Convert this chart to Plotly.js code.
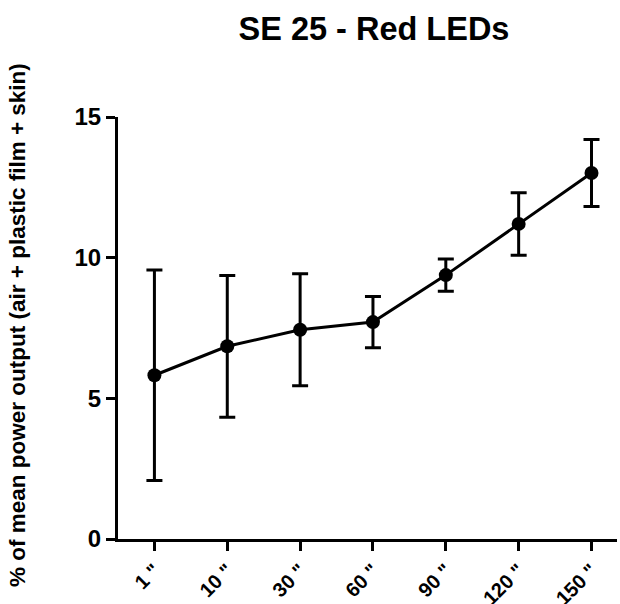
<!DOCTYPE html>
<html>
<head>
<meta charset="utf-8">
<script src="https://cdn.plot.ly/plotly-3.0.1.min.js"></script>
<style>html,body{margin:0;padding:0;background:#fff;}#chart{width:620px;height:604px;}</style>
</head>
<body>
<div id="chart"></div>
<script>
const categories = ['1 "', '10 "', '30 "', '60 "', '90 "', '120 "', '150 "'];
const meanValues = [5.82, 6.85, 7.44, 7.71, 9.38, 11.2, 13.01];
const sdValues = [3.74, 2.52, 1.99, 0.91, 0.57, 1.11, 1.19];
const yTickVals = [0, 5, 10, 15];

const FONT = '"Liberation Sans", Arial, Helvetica, sans-serif';

const trace = {
  x: categories,
  y: meanValues,
  type: 'scatter',
  mode: 'lines+markers',
  line: {color: '#000', width: 3},
  marker: {color: '#000', size: 14},
  error_y: {type: 'data', array: sdValues, visible: true, color: '#000', thickness: 3, width: 8},
  cliponaxis: false,
  showlegend: false
};

const layout = {
  width: 620, height: 604,
  margin: {l: 118, r: 3, t: 117, b: 65},
  paper_bgcolor: '#fff', plot_bgcolor: '#fff',
  font: {family: FONT, color: '#000'},
  title: {text: '<b>SE 25 - Red LEDs</b>', font: {size: 32.5, color: '#000', family: FONT}, x: 374/620, xanchor: 'center', y: 1 - 29/604, yanchor: 'middle'},
  xaxis: {
    type: 'category', range: [-0.5, 6.35],
    showline: true, linecolor: '#000', linewidth: 3,
    ticks: 'outside', ticklen: 9, tickwidth: 3, tickcolor: '#000',
    tickangle: -45, tickfont: {size: 20, color: '#000', family: FONT, weight: 'bold'},
    showgrid: false, zeroline: false, fixedrange: true
  },
  yaxis: {
    range: [0, 15], tickvals: yTickVals,
    showline: true, linecolor: '#000', linewidth: 3,
    ticks: 'outside', ticklen: 9, tickwidth: 3, tickcolor: '#000',
    tickfont: {size: 24, color: '#000', family: FONT, weight: 'bold'},
    showgrid: false, zeroline: false
  },
  annotations: [{
    text: '<b>% of mean power output (air + plastic film + skin)</b>',
    xref: 'paper', yref: 'paper',
    x: (17 - 118) / 499, y: (539 - 325) / 422,
    xanchor: 'center', yanchor: 'middle',
    textangle: -90, showarrow: false,
    font: {size: 22.5, color: '#000', family: FONT}
  }]
};

Plotly.newPlot('chart', [trace], layout, {displayModeBar: false, staticPlot: true});
</script>
</body>
</html>
